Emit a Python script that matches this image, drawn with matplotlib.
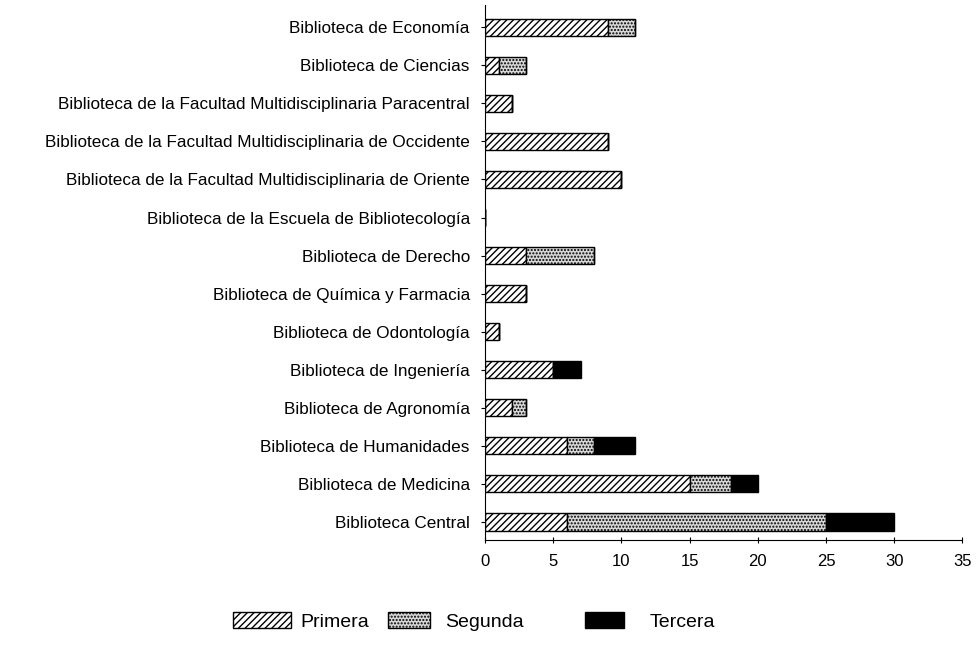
import numpy as np
import matplotlib
matplotlib.use("Agg")
import matplotlib.pyplot as plt
from matplotlib.patches import Patch

plt.rcParams['font.family'] = ['Liberation Sans', 'DejaVu Sans']
plt.rcParams['hatch.linewidth'] = 1.0

# de abajo hacia arriba
bibliotecas = [
    "Biblioteca Central",
    "Biblioteca de Medicina",
    "Biblioteca de Humanidades",
    "Biblioteca de Agronomía",
    "Biblioteca de Ingeniería",
    "Biblioteca de Odontología",
    "Biblioteca de Química y Farmacia",
    "Biblioteca de Derecho",
    "Biblioteca de la Escuela de Bibliotecología",
    "Biblioteca de la Facultad Multidisciplinaria de Oriente",
    "Biblioteca de la Facultad Multidisciplinaria de Occidente",
    "Biblioteca de la Facultad Multidisciplinaria Paracentral",
    "Biblioteca de Ciencias",
    "Biblioteca de Economía",
]
primera = [6, 15, 6, 2, 5, 1, 3, 3, 0, 10, 9, 2, 1, 9]
segunda = [19, 3, 2, 1, 0, 0, 0, 5, 0, 0, 0, 0, 2, 2]
tercera = [5, 2, 3, 0, 2, 0, 0, 0, 0, 0, 0, 0, 0, 0]

y = np.arange(len(bibliotecas))
primera = np.array(primera)
segunda = np.array(segunda)
tercera = np.array(tercera)

fig = plt.figure(figsize=(9.76, 6.52), dpi=100)
ax = fig.add_axes([0.497, 0.172, 0.489, 0.82])

alto = 0.45
ax.barh(y, primera, height=alto, color='white', edgecolor='black',
        hatch='/////', linewidth=1.0)
ax.barh(y, segunda, left=primera, height=alto, color='#d8d8d8',
        edgecolor='black', hatch='.....', linewidth=1.0)
ax.barh(y, tercera, left=primera + segunda, height=alto, color='black',
        edgecolor='black', linewidth=1.0)

ax.set_xlim(0, 35)
ax.set_ylim(-0.47, len(bibliotecas) - 0.42)
ax.set_xticks(range(0, 36, 5))
ax.set_yticks(y)
ax.set_yticklabels(bibliotecas, fontsize=12.3)
ax.tick_params(axis='x', labelsize=12, direction='inout', length=5, pad=8)
ax.tick_params(axis='y', direction='out', length=3, pad=8)
for lado in ('top', 'right'):
    ax.spines[lado].set_visible(False)

# leyenda: una entrada por bloque, con su propio ancho de muestra
entradas = [
    (Patch(facecolor='white', edgecolor='black', hatch='/////'), 'Primera', 0.239, 2.95, 0.5),
    (Patch(facecolor='#d8d8d8', edgecolor='black', hatch='.....'), 'Segunda', 0.398, 2.15, 0.77),
    (Patch(facecolor='black', edgecolor='black'), 'Tercera', 0.599, 2.05, 1.3),
]
for parche, texto, x0, largo, sep in entradas:
    fig.legend(handles=[parche], labels=[texto], loc='center left',
               bbox_to_anchor=(x0, 0.047), frameon=False, fontsize=14,
               handlelength=largo, handleheight=0.93, handletextpad=sep,
               borderpad=0, borderaxespad=0)

fig.savefig("out.png", dpi=100)
